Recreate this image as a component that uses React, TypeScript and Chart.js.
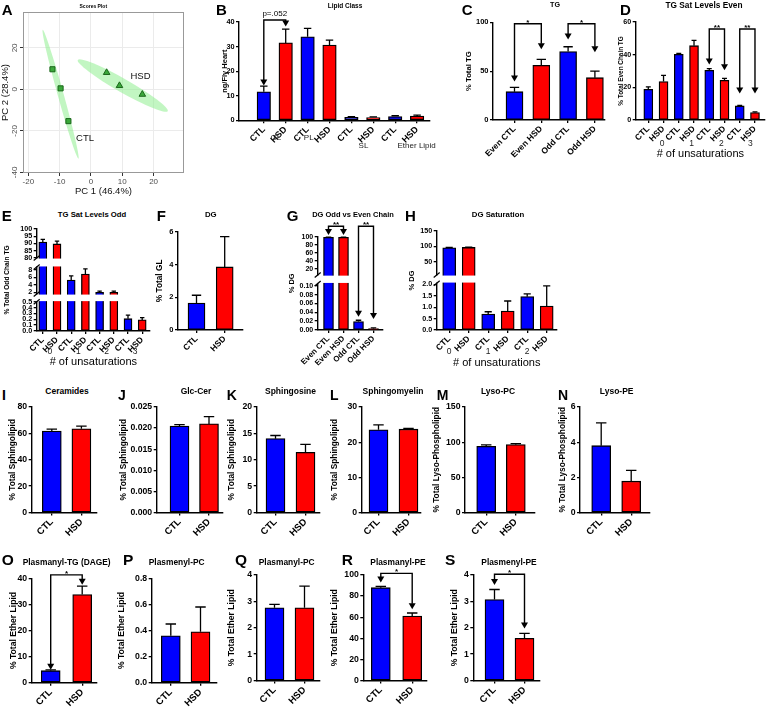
import React, { useEffect, useRef } from 'react';
import { Chart, registerables, LinearScale } from 'chart.js';

Chart.register(...registerables);

const FONT = "'Liberation Sans', Arial, Helvetica, sans-serif";
const BLUE = '#0000ff';
const RED = '#ff0000';

// ===================== DATA =====================
const pair = ['CTL', 'HSD'];
const pairs4 = ['CTL', 'HSD', 'CTL', 'HSD', 'CTL', 'HSD', 'CTL', 'HSD'];
const pairs3 = ['CTL', 'HSD', 'CTL', 'HSD', 'CTL', 'HSD'];
const evenOddLabels = ['Even CTL', 'Even HSD', 'Odd CTL', 'Odd HSD'];
const unsatGroups4 = ['0', '1', '2', '3'];
const unsatGroups3 = ['0', '1', '2'];

// A – PCA scores plot
const pcaCtlX = [-12.3, -9.7, -7.2];
const pcaCtlY = [9.7, 0.5, -15.3];
const pcaHsdX = [5.0, 9.1, 16.4];
const pcaHsdY = [8.1, 1.8, -2.4];
const pcaTicksX = [-20, -10, 0, 10, 20];
const pcaTicksY = [-40, -20, 0, 20];
// confidence ellipses: major-axis end points (x1, y1, x2, y2) and minor/major ratio
const pcaCtlEllipse = [-15.4, 28.7, -4.0, -33.4, 0.045];
const pcaHsdEllipse = [-4.2, 14.2, 24.5, -10.5, 0.13];
const pcaGroupNames = ['HSD', 'CTL'];
const pcaGroupNameX = [15.8, -1.9];
const pcaGroupNameY = [6.1, -23.7];

// B – Lipid class
const lipidClassGroups = ['GL', 'PL', 'SL', 'Ether Lipid'];
const lipidClassMean = [11.6, 31.5, 34.0, 30.6, 1.2, 1.1, 1.5, 1.75];
const lipidClassSem = [2.3, 5.6, 3.4, 2.0, 0.3, 0.3, 0.35, 0.35];
const lipidClassTicks = [0, 10, 20, 30, 40];

// C – TG
const tgMean = [29, 56, 70, 43.3];
const tgSem = [4.4, 6, 5, 6.8];
const tgTicks = [0, 50, 100];

// D – TG sat levels even
const tgEvenMean = [18.8, 23.5, 40.2, 45.5, 30.4, 24.3, 8.6, 4.5];
const tgEvenSem = [1.5, 3.8, 0.6, 3.2, 1.0, 1.2, 0.4, 0.5];
const tgEvenTicks = [0, 20, 40, 60];

// E – TG sat levels odd (broken axis)
const tgOddMean = [91, 89.7, 5.3, 6.9, 2.0, 2.0, 0.21, 0.19];
const tgOddSem = [1.8, 1.9, 1.1, 1.4, 0.3, 0.3, 0.06, 0.04];
const tgOddTicksLow = [0, 0.1, 0.2, 0.3, 0.4, 0.5];
const tgOddTicksMid = [2, 4, 6, 8];
const tgOddTicksHigh = [80, 85, 90, 95, 100];

// F – DG
const dgMean = [1.65, 3.85];
const dgSem = [0.47, 1.85];
const dgTicks = [0, 2, 4, 6];

// G – DG odd vs even (broken axis)
const dgChainMean = [98.5, 98.5, 0.019, 0.003];
const dgChainSem = [0.5, 0.5, 0.003, 0.002];
const dgChainTicksLow = [0, 0.02, 0.04, 0.06, 0.08, 0.1];
const dgChainTicksHigh = [20, 40, 60, 80, 100];

// H – DG saturation (broken axis)
const dgSatMean = [95.5, 96.5, 0.7, 0.83, 1.46, 1.05];
const dgSatSem = [1.0, 1.0, 0.1, 0.44, 0.12, 0.88];
const dgSatTicksLow = [0, 0.5, 1, 1.5, 2];
const dgSatTicksHigh = [50, 100, 150];

// I–N
const ceramidesMean = [61.7, 63.5];
const ceramidesSem = [1.5, 2.0];
const ceramidesTicks = [0, 20, 40, 60, 80];
const glcCerMean = [0.0205, 0.021];
const glcCerSem = [0.0003, 0.0017];
const glcCerTicks = [0, 0.005, 0.01, 0.015, 0.02, 0.025];
const sphingosineMean = [14.0, 11.4];
const sphingosineSem = [0.6, 1.5];
const sphingosineTicks = [0, 5, 10, 15, 20];
const sphingomyelinMean = [23.5, 23.7];
const sphingomyelinSem = [1.4, 0.25];
const sphingomyelinTicks = [0, 10, 20, 30];
const lysoPcMean = [94, 96.5];
const lysoPcSem = [2.2, 1.5];
const lysoPcTicks = [0, 50, 100, 150];
const lysoPeMean = [3.8, 1.78];
const lysoPeSem = [1.3, 0.62];
const lysoPeTicks = [0, 2, 4, 6];

// O–S
const dageMean = [4.6, 33.8];
const dageSem = [0.3, 3.2];
const dageTicks = [0, 10, 20, 30, 40];
const plasmenylPcMean = [0.36, 0.39];
const plasmenylPcSem = [0.09, 0.19];
const plasmenylPcTicks = [0, 0.2, 0.4, 0.6, 0.8];
const plasmanylPcMean = [2.76, 2.76];
const plasmanylPcSem = [0.13, 0.82];
const plasmanylPcTicks = [0, 1, 2, 3, 4];
const plasmanylPeMean = [88, 61];
const plasmanylPeSem = [1.2, 3];
const plasmanylPeTicks = [0, 20, 40, 60, 80, 100];
const plasmenylPeMean = [3.07, 1.6];
const plasmenylPeSem = [0.38, 0.19];
const plasmenylPeTicks = [0, 1, 2, 3, 4];

// ===================== TYPES / LAYOUT =====================
type Seg = { min: number; max: number; from: number; to: number; ticks: number[]; dec: number };
type Bracket = { a: number; b: number; top: number; tipA: number; tipB: number; label: string };
type Group = { text: string; at: number; dy: number };
type Panel = {
  key: string; labels: string[]; mean: number[]; sem: number[]; segs: Seg[];
  ax: number; x1: number; yTop: number; yBot: number; c0: number; dx: number; bw: number;
  yTitle: string; yTitleX: number; yTitleFs: number; yTickFs: number; xTickFs: number;
  padTop: number; xH: number; xTitle?: string; xTitleY?: number;
  groups?: Group[]; groupFs?: number; brackets?: Bracket[];
};

const one = (ticks: number[], dec = 0): Seg[] => [
  { min: ticks[0], max: ticks[ticks.length - 1], from: 0, to: 1, ticks, dec },
];
const grp = (names: string[], at: number[], dy: number): Group[] =>
  names.map((t, i) => ({ text: t, at: at[i], dy }));

const PANELS: Panel[] = [
  {
    key: 'B', labels: pairs4, mean: lipidClassMean, sem: lipidClassSem, segs: one(lipidClassTicks),
    ax: 239, x1: 430, yTop: 22, yBot: 120.3, c0: 263.8, dx: 21.9, bw: 13.5,
    yTitle: 'ng/Fly Heart', yTitleX: 224.5, yTitleFs: 7.5, yTickFs: 7.3, xTickFs: 9, padTop: 18, xH: 45,
    groups: [
      { text: lipidClassGroups[0], at: 1.55, dy: 17 },
      { text: lipidClassGroups[1], at: 3.05, dy: 17 },
      { text: lipidClassGroups[2], at: 5.55, dy: 25 },
      { text: lipidClassGroups[3], at: 7.98, dy: 25 },
    ], groupFs: 8,
    brackets: [{ a: 1, b: 2, top: 40.8, tipA: 14.2, tipB: 38.2, label: 'p=.052' }],
  },
  {
    key: 'C', labels: evenOddLabels, mean: tgMean, sem: tgSem, segs: one(tgTicks),
    ax: 493, x1: 605, yTop: 22.3, yBot: 120, c0: 514.5, dx: 26.8, bw: 17,
    yTitle: '% Total TG', yTitleX: 469, yTitleFs: 7.7, yTickFs: 7.5, xTickFs: 8.5, padTop: 16, xH: 50,
    brackets: [
      { a: 1, b: 2, top: 98.5, tipA: 39.5, tipB: 72.4, label: '*' },
      { a: 3, b: 4, top: 98.5, tipA: 82.5, tipB: 69.3, label: '*' },
    ],
  },
  {
    key: 'D', labels: pairs4, mean: tgEvenMean, sem: tgEvenSem, segs: one(tgEvenTicks),
    ax: 635.7, x1: 765, yTop: 22, yBot: 120, c0: 648.3, dx: 15.24, bw: 9,
    yTitle: '% Total Even Chain TG', yTitleX: 621.5, yTitleFs: 6.4, yTickFs: 7.2, xTickFs: 8.5, padTop: 16, xH: 45,
    xTitle: '# of unsaturations', xTitleY: 154,
    groups: grp(unsatGroups4, [1.9, 3.85, 5.8, 7.7], 24), groupFs: 8.5,
    brackets: [
      { a: 5, b: 6, top: 55.7, tipA: 34, tipB: 30.5, label: '**' },
      { a: 7, b: 8, top: 55.7, tipA: 16.3, tipB: 16.3, label: '**' },
    ],
  },
  {
    key: 'E', labels: pairs4, mean: tgOddMean, sem: tgOddSem,
    segs: [
      { min: 0, max: 0.5, from: 0, to: 0.287, ticks: tgOddTicksLow, dec: 1 },
      { min: 1.55, max: 8.8, from: 0.363, to: 0.627, ticks: tgOddTicksMid, dec: 0 },
      { min: 80, max: 100, from: 0.716, to: 1, ticks: tgOddTicksHigh, dec: 0 },
    ],
    ax: 36.7, x1: 150, yTop: 229, yBot: 331, c0: 42.8, dx: 14.2, bw: 8,
    yTitle: '% Total Odd Chain TG', yTitleX: 6.7, yTitleFs: 6.6, yTickFs: 7.2, xTickFs: 8.5, padTop: 8, xH: 45,
    xTitle: '# of unsaturations', xTitleY: 362,
    groups: grp(unsatGroups4, [1.5, 3.5, 5.5, 7.5], 21), groupFs: 8.5,
  },
  {
    key: 'F', labels: pair, mean: dgMean, sem: dgSem, segs: one(dgTicks),
    ax: 178, x1: 243, yTop: 231.7, yBot: 330, c0: 196.5, dx: 28.2, bw: 17,
    yTitle: '% Total GL', yTitleX: 160, yTitleFs: 8.3, yTickFs: 7.5, xTickFs: 8.5, padTop: 8, xH: 40,
  },
  {
    key: 'G', labels: evenOddLabels, mean: dgChainMean, sem: dgChainSem,
    segs: [
      { min: 0, max: 0.105, from: 0, to: 0.498, ticks: dgChainTicksLow, dec: 2 },
      { min: 5, max: 100, from: 0.589, to: 1, ticks: dgChainTicksHigh, dec: 0 },
    ],
    ax: 317.7, x1: 382.5, yTop: 236.7, yBot: 330, c0: 328.5, dx: 15, bw: 10,
    yTitle: '% DG', yTitleX: 291.7, yTitleFs: 7.5, yTickFs: 7, xTickFs: 8, padTop: 16, xH: 50,
    brackets: [
      { a: 1, b: 2, top: 126, tipA: 104, tipB: 104, label: '**' },
      { a: 3, b: 4, top: 126, tipA: 0.03, tipB: 0.025, label: '**' },
    ],
  },
  {
    key: 'H', labels: pairs3, mean: dgSatMean, sem: dgSatSem,
    segs: [
      { min: 0, max: 2.05, from: 0, to: 0.473, ticks: dgSatTicksLow, dec: 1 },
      { min: 6.7, max: 150, from: 0.556, to: 1, ticks: dgSatTicksHigh, dec: 0 },
    ],
    ax: 436.7, x1: 556.7, yTop: 231, yBot: 330, c0: 449.2, dx: 19.5, bw: 13,
    yTitle: '% DG', yTitleX: 411.7, yTitleFs: 7.5, yTickFs: 7.2, xTickFs: 8.5, padTop: 8, xH: 45,
    xTitle: '# of unsaturations', xTitleY: 363,
    groups: grp(unsatGroups3, [1, 3, 5], 22), groupFs: 8.5,
  },
];

function small(key: string, mean: number[], sem: number[], ticks: number[], dec: number,
  yTitle: string, ax: number, x1: number, c0: number, dx: number, yTop: number, yBot: number,
  yTitleX: number, yTitleFs: number, brackets?: Bracket[]): Panel {
  return {
    key, labels: pair, mean, sem, segs: one(ticks, dec), ax, x1, yTop, yBot, c0, dx, bw: 19,
    yTitle, yTitleX, yTitleFs, yTickFs: 8.7, xTickFs: 9.5, padTop: brackets ? 12 : 8, xH: 40, brackets,
  };
}

PANELS.push(
  small('I', ceramidesMean, ceramidesSem, ceramidesTicks, 0, '% Total Sphingolipid', 31.7, 96.7, 51.8, 29.6, 407, 512.5, 12.7, 8.3),
  small('J', glcCerMean, glcCerSem, glcCerTicks, 3, '% Total Sphingolipid', 156.7, 223, 179.5, 29.5, 407, 512.5, 123.3, 8.3),
  small('K', sphingosineMean, sphingosineSem, sphingosineTicks, 0, '% Total Sphingolipid', 256.7, 320, 275.5, 30, 407, 512.5, 231.7, 8.3),
  small('L', sphingomyelinMean, sphingomyelinSem, sphingomyelinTicks, 0, '% Total Sphingolipid', 361.7, 421, 378.5, 30, 407, 512.5, 335, 8.3),
  small('M', lysoPcMean, lysoPcSem, lysoPcTicks, 0, '% Total Lyso-Phospholipid', 465, 535, 486.2, 29.6, 407, 512.5, 436.7, 8.3),
  small('N', lysoPeMean, lysoPeSem, lysoPeTicks, 0, '% Total Lyso-Phospholipid', 580, 650, 601.2, 30, 407, 512.5, 562.7, 8.3),
  small('O', dageMean, dageSem, dageTicks, 0, '% Total Ether Lipid', 31.7, 96.7, 50.7, 31.5, 578.3, 682.7, 13.3, 8.6,
    [{ a: 1, b: 2, top: 41.3, tipA: 5.0, tipB: 37.5, label: '*' }]),
  small('P', plasmenylPcMean, plasmenylPcSem, plasmenylPcTicks, 1, '% Total Ether Lipid', 151.7, 216.7, 170.8, 29.7, 578.3, 682.7, 121.7, 8.6),
  small('Q', plasmanylPcMean, plasmanylPcSem, plasmanylPcTicks, 0, '% Total Ether Lipid', 256.7, 320, 274.5, 30, 575, 680.5, 231.7, 8.6),
  small('R', plasmanylPeMean, plasmanylPeSem, plasmanylPeTicks, 0, '% Total Ether Lipid', 363.3, 426.7, 380.8, 31.4, 575, 680.5, 335, 8.6,
    [{ a: 1, b: 2, top: 101.5, tipA: 93, tipB: 67.5, label: '*' }]),
  small('S', plasmenylPeMean, plasmenylPeSem, plasmenylPeTicks, 0, '% Total Ether Lipid', 473.3, 540, 494.5, 30, 575, 680.5, 455, 8.6,
    [{ a: 1, b: 2, top: 4.03, tipA: 3.62, tipB: 1.97, label: '*' }]),
);

const SPEC_MAP = new Map<string, Panel>();
PANELS.forEach((p) => SPEC_MAP.set('cv-' + p.key, p));

const TITLES: [string, number, number, number][] = [
  ['Scores Plot', 93.3, 5.5, 5],
  ['Lipid Class', 345, 5.5, 6.5],
  ['TG', 555, 5.5, 7.2],
  ['TG Sat Levels Even', 704, 5.5, 8.3],
  ['TG Sat Levels Odd', 92, 214.3, 7.7],
  ['DG', 210.8, 214.3, 7.8],
  ['DG Odd vs Even Chain', 353, 214.3, 7.5],
  ['DG Saturation', 498, 214.3, 7.8],
  ['Ceramides', 67, 391, 8.5],
  ['Glc-Cer', 196, 391, 8.5],
  ['Sphingosine', 290.5, 391, 8.5],
  ['Sphingomyelin', 393, 391, 8.5],
  ['Lyso-PC', 498, 391, 8.5],
  ['Lyso-PE', 616.7, 391, 8.5],
  ['Plasmanyl-TG (DAGE)', 66.7, 561.5, 8.4],
  ['Plasmenyl-PC', 176.7, 561.5, 8.4],
  ['Plasmanyl-PC', 286.7, 561.5, 8.4],
  ['Plasmanyl-PE', 398, 561.5, 8.4],
  ['Plasmenyl-PE', 509, 561.5, 8.4],
];

const LETTERS: [string, number, number, number][] = [
  ['A', 1.7, 4, 15], ['B', 216, 4, 15], ['C', 461.7, 4, 15], ['D', 620, 4, 15],
  ['E', 1.7, 210, 15], ['F', 156.7, 210, 15], ['G', 286.7, 210, 15], ['H', 405, 210, 15],
  ['I', 2, 390, 14], ['J', 118, 390, 14], ['K', 226.7, 390, 14], ['L', 330, 390, 14], ['M', 436.7, 390, 14], ['N', 558, 390, 14],
  ['O', 1.7, 554, 15.5], ['P', 123, 554, 15.5], ['Q', 235, 554, 15.5], ['R', 341.7, 554, 15.5], ['S', 445, 554, 15.5],
];

// ===================== BROKEN (segmented) Y SCALE =====================
class BrokenScale extends (LinearScale as any) {
  static id = 'broken';
  static defaults = {};
  segs(): Seg[] {
    return SPEC_MAP.get((this as any).chart.canvas.id)!.segs;
  }
  determineDataLimits() {
    const s = this.segs();
    (this as any).min = s[0].min;
    (this as any).max = s[s.length - 1].max;
  }
  buildTicks() {
    const out: any[] = [];
    for (const s of this.segs()) for (const v of s.ticks) out.push({ value: v, lbl: v.toFixed(s.dec) });
    return out;
  }
  getPixelForValue(value: number) {
    const segs = this.segs();
    let s = segs[segs.length - 1];
    for (const seg of segs) { if (value <= seg.max) { s = seg; break; } }
    const f = s.from + ((value - s.min) / (s.max - s.min)) * (s.to - s.from);
    return (this as any).getPixelForDecimal(f);
  }
  getValueForPixel(pixel: number) {
    const d = (this as any).getDecimalForPixel(pixel);
    const segs = this.segs();
    let s = segs[segs.length - 1];
    for (const seg of segs) { if (d <= seg.to) { s = seg; break; } }
    return s.min + ((d - s.from) / (s.to - s.from)) * (s.max - s.min);
  }
}
Chart.register(BrokenScale as any);

// ===================== PLUGINS =====================
const prismPlugin = {
  id: 'prism',
  afterDatasetsDraw(chart: any) {
    const p = SPEC_MAP.get(chart.canvas.id);
    if (!p) return;
    const ctx = chart.ctx;
    const ys = chart.scales.y;
    const xs = chart.scales.x;
    const ca = chart.chartArea;
    ctx.save();
    // axis breaks
    for (let i = 0; i < p.segs.length - 1; i++) {
      const yLow = ys.getPixelForDecimal(p.segs[i].to);
      const yHigh = ys.getPixelForDecimal(p.segs[i + 1].from);
      ctx.fillStyle = '#fff';
      ctx.fillRect(ca.left - 2.5, yHigh + 0.6, ca.right - ca.left + 5, yLow - yHigh - 1.2);
      ctx.strokeStyle = '#000';
      ctx.lineWidth = 1.2;
      for (const yy of [yLow, yHigh]) {
        ctx.beginPath();
        ctx.moveTo(ca.left - 3, yy + 2.5);
        ctx.lineTo(ca.left + 3, yy - 2.5);
        ctx.stroke();
      }
    }
    // error bars (upper SEM)
    const meta = chart.getDatasetMeta(0);
    ctx.strokeStyle = '#000';
    ctx.lineWidth = 1.3;
    meta.data.forEach((el: any, i: number) => {
      const e = p.sem[i];
      if (e == null) return;
      const yt = ys.getPixelForValue(p.mean[i] + e);
      const cw = el.width * 0.55;
      ctx.beginPath();
      ctx.moveTo(el.x, el.y);
      ctx.lineTo(el.x, yt);
      ctx.moveTo(el.x - cw / 2, yt);
      ctx.lineTo(el.x + cw / 2, yt);
      ctx.stroke();
    });
    // significance brackets
    ctx.fillStyle = '#000';
    for (const b of p.brackets || []) {
      const xa = xs.getPixelForValue(b.a);
      const xb = xs.getPixelForValue(b.b);
      const yt = ys.getPixelForValue(b.top);
      const ya = ys.getPixelForValue(b.tipA);
      const yb = ys.getPixelForValue(b.tipB);
      const ah = 6;
      const aw = 3.5;
      ctx.lineWidth = 1.4;
      ctx.beginPath();
      ctx.moveTo(xa, ya - ah + 0.5);
      ctx.lineTo(xa, yt);
      ctx.lineTo(xb, yt);
      ctx.lineTo(xb, yb - ah + 0.5);
      ctx.stroke();
      for (const [tx, ty] of [[xa, ya], [xb, yb]]) {
        ctx.beginPath();
        ctx.moveTo(tx, ty);
        ctx.lineTo(tx - aw, ty - ah);
        ctx.lineTo(tx + aw, ty - ah);
        ctx.closePath();
        ctx.fill();
      }
      const star = b.label.startsWith('*');
      ctx.font = `${star ? 'bold ' : ''}8px ${FONT}`;
      ctx.textAlign = 'center';
      ctx.textBaseline = 'alphabetic';
      ctx.fillText(b.label, (xa + xb) / 2, star ? yt + 0.8 : yt - 4);
    }
    // group labels under the rotated tick labels
    if (p.groups) {
      ctx.font = `${p.groupFs || 8}px ${FONT}`;
      ctx.fillStyle = '#222';
      ctx.textAlign = 'center';
      ctx.textBaseline = 'middle';
      for (const g of p.groups) ctx.fillText(g.text, xs.getPixelForValue(g.at), ca.bottom + g.dy);
    }
    ctx.restore();
  },
};

function geom(p: Panel) {
  const lh = p.yTitleFs * 1.2;
  const leftF = p.yTitleX - lh / 2;
  const left = Math.floor(leftF);
  const padLeft = leftF - left;
  const yW = p.ax - leftF;
  const top = Math.floor(p.yTop - p.padTop);
  const padTop = p.yTop - top;
  const xH = p.xTitle ? (p.xTitleY as number) - p.yBot + 6.6 : p.xH;
  const width = Math.ceil(p.x1 - left + 12);
  const height = Math.ceil(p.yBot - top + xH);
  const padR = width - (p.x1 - left);
  const padBottom = height - (p.yBot - top) - xH;
  return { left, top, width, height, padLeft, yW, padTop, padR, padBottom, xH };
}

function barConfig(p: Panel): any {
  const g = geom(p);
  const xmin = 1 - (p.c0 - p.ax) / p.dx;
  const xmax = xmin + (p.x1 - p.ax) / p.dx;
  const axisGrid = { display: true, drawOnChartArea: false, drawTicks: true, tickLength: 3, color: '#000', lineWidth: 1.3 };
  const axisBorder = { display: true, color: '#000', width: 1.4 };
  return {
    type: 'bar',
    data: {
      datasets: [{
        data: p.mean.map((v, i) => ({ x: i + 1, y: v })),
        backgroundColor: p.labels.map((l) => (l.includes('CTL') ? BLUE : RED)),
        borderColor: '#000',
        borderWidth: 1.3,
        borderSkipped: false,
        barThickness: p.bw,
      }],
    },
    options: {
      responsive: false,
      animation: false,
      devicePixelRatio: 1,
      events: [],
      layout: { padding: { top: g.padTop, right: g.padR, bottom: g.padBottom, left: g.padLeft } },
      plugins: { legend: { display: false }, tooltip: { enabled: false }, title: { display: false } },
      scales: {
        x: {
          type: 'linear', min: xmin, max: xmax, offset: false,
          afterBuildTicks: (s: any) => { s.ticks = p.labels.map((_, i) => ({ value: i + 1 })); },
          ticks: {
            autoSkip: false, maxRotation: 45, minRotation: 45, padding: 1, color: '#000',
            font: { family: FONT, size: p.xTickFs, weight: 'bold' },
            callback: (_v: any, i: number) => p.labels[i],
          },
          grid: { ...axisGrid, offset: false },
          border: axisBorder,
          title: p.xTitle
            ? { display: true, text: p.xTitle, padding: 0, color: '#000', font: { family: FONT, size: 11 } }
            : { display: false },
          afterFit: (s: any) => { s.height = g.xH; },
        },
        y: {
          type: 'broken', position: 'left',
          ticks: {
            autoSkip: false, padding: 1.5, color: '#000',
            font: { family: FONT, size: p.yTickFs, weight: 'bold' },
            callback: (_v: any, i: number, t: any[]) => t[i].lbl,
          },
          grid: axisGrid,
          border: axisBorder,
          title: {
            display: true, text: p.yTitle, padding: 0, color: '#000',
            font: { family: FONT, size: p.yTitleFs, weight: 'bold' },
          },
          afterFit: (s: any) => { s.width = g.yW; },
        },
      },
    },
    plugins: [prismPlugin],
  };
}

const pcaPlugin = {
  id: 'pca',
  beforeDatasetsDraw(chart: any) {
    const { ctx } = chart;
    const x = chart.scales.x;
    const y = chart.scales.y;
    ctx.save();
    ctx.fillStyle = 'rgba(144, 238, 144, 0.55)';
    for (const e of [pcaCtlEllipse, pcaHsdEllipse]) {
      const x1 = x.getPixelForValue(e[0]);
      const y1 = y.getPixelForValue(e[1]);
      const x2 = x.getPixelForValue(e[2]);
      const y2 = y.getPixelForValue(e[3]);
      const a = Math.hypot(x2 - x1, y2 - y1) / 2;
      ctx.beginPath();
      ctx.ellipse((x1 + x2) / 2, (y1 + y2) / 2, a, a * e[4], Math.atan2(y2 - y1, x2 - x1), 0, Math.PI * 2);
      ctx.fill();
    }
    ctx.restore();
  },
  afterDraw(chart: any) {
    const { ctx, chartArea: ca } = chart;
    const x = chart.scales.x;
    const y = chart.scales.y;
    ctx.save();
    ctx.strokeStyle = '#999';
    ctx.lineWidth = 1;
    ctx.strokeRect(ca.left + 0.5, ca.top + 0.5, ca.right - ca.left - 1, ca.bottom - ca.top - 1);
    ctx.fillStyle = '#4d4d4d';
    ctx.font = `8px ${FONT}`;
    ctx.textAlign = 'center';
    ctx.textBaseline = 'bottom';
    for (const v of pcaTicksY) {
      ctx.save();
      ctx.translate(ca.left - 4, y.getPixelForValue(v));
      ctx.rotate(-Math.PI / 2);
      ctx.fillText(String(v), 0, 0);
      ctx.restore();
    }
    ctx.fillStyle = '#111';
    ctx.font = `9.5px ${FONT}`;
    ctx.textBaseline = 'middle';
    pcaGroupNames.forEach((t, i) => {
      ctx.fillText(t, x.getPixelForValue(pcaGroupNameX[i]), y.getPixelForValue(pcaGroupNameY[i]));
    });
    ctx.restore();
  },
};

const PCA_GEOM = { left: 0, top: 0, width: 190, height: 197 };

function pcaConfig(): any {
  const grid = { color: '#ebebeb', tickColor: '#333', tickLength: 3, lineWidth: 1 };
  return {
    type: 'scatter',
    data: {
      datasets: [
        {
          data: pcaCtlX.map((v, i) => ({ x: v, y: pcaCtlY[i] })),
          pointStyle: 'rect', pointRadius: 3.6, backgroundColor: '#3aa83a', borderColor: '#1a661a', borderWidth: 1,
        },
        {
          data: pcaHsdX.map((v, i) => ({ x: v, y: pcaHsdY[i] })),
          pointStyle: 'triangle', pointRadius: 3.8, backgroundColor: '#3aa83a', borderColor: '#1a661a', borderWidth: 1,
        },
      ],
    },
    options: {
      responsive: false,
      animation: false,
      devicePixelRatio: 1,
      events: [],
      layout: { padding: { top: 12, right: 6, bottom: 0, left: 0 } },
      plugins: { legend: { display: false }, tooltip: { enabled: false } },
      scales: {
        x: {
          type: 'linear', min: -21.7, max: 29.7,
          afterBuildTicks: (s: any) => { s.ticks = pcaTicksX.map((v) => ({ value: v })); },
          grid, border: { display: false },
          ticks: { color: '#4d4d4d', font: { family: FONT, size: 8 }, padding: 1, maxRotation: 0, autoSkip: false },
          title: { display: true, text: 'PC 1 (46.4%)', padding: 0, color: '#111', font: { family: FONT, size: 9.5 } },
          afterFit: (s: any) => { s.height = 24; },
        },
        y: {
          type: 'linear', min: -40.3, max: 37.3,
          afterBuildTicks: (s: any) => { s.ticks = pcaTicksY.map((v) => ({ value: v })); },
          grid, border: { display: false },
          ticks: { display: false },
          title: { display: true, text: 'PC 2 (28.4%)', padding: 0, color: '#111', font: { family: FONT, size: 9.5 } },
          afterFit: (s: any) => { s.width = 23; },
        },
      },
    },
    plugins: [pcaPlugin],
  };
}

// ===================== COMPONENT =====================
export default function App() {
  const refs = useRef<Record<string, HTMLCanvasElement | null>>({});
  useEffect(() => {
    const charts: Chart[] = [];
    const a = refs.current['A'];
    if (a) charts.push(new Chart(a, pcaConfig()));
    for (const p of PANELS) {
      const c = refs.current[p.key];
      if (c) charts.push(new Chart(c, barConfig(p)));
    }
    return () => charts.forEach((ch) => ch.destroy());
  }, []);

  return (
    <div style={{ position: 'absolute', left: 0, top: 0, width: 766, height: 707, overflow: 'hidden', background: '#fff', fontFamily: FONT }}>
      <canvas
        id="cv-A"
        ref={(el) => { refs.current['A'] = el; }}
        width={PCA_GEOM.width}
        height={PCA_GEOM.height}
        style={{ position: 'absolute', left: PCA_GEOM.left, top: PCA_GEOM.top, width: PCA_GEOM.width, height: PCA_GEOM.height }}
      />
      {PANELS.map((p) => {
        const g = geom(p);
        return (
          <canvas
            key={p.key}
            id={'cv-' + p.key}
            ref={(el) => { refs.current[p.key] = el; }}
            width={g.width}
            height={g.height}
            style={{ position: 'absolute', left: g.left, top: g.top, width: g.width, height: g.height }}
          />
        );
      })}
      {TITLES.map(([t, cx, cy, fs], i) => (
        <div
          key={'t' + i}
          style={{
            position: 'absolute', left: cx, top: cy - 0.588 * fs, transform: 'translateX(-50%)',
            fontSize: fs, lineHeight: 1.2, fontWeight: 'bold', whiteSpace: 'nowrap', color: '#000',
          }}
        >
          {t}
        </div>
      ))}
      {LETTERS.map(([t, x, y, fs]) => (
        <div
          key={'l' + t}
          style={{
            position: 'absolute', left: x, top: y - 0.13 * fs, fontSize: fs, lineHeight: 1,
            fontWeight: 'bold', color: '#000',
          }}
        >
          {t}
        </div>
      ))}
    </div>
  );
}
